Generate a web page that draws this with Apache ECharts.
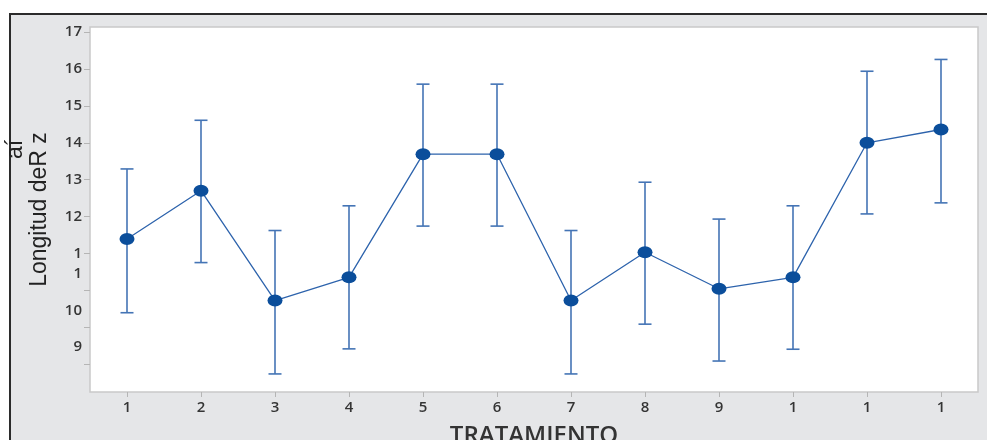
<!DOCTYPE html>
<html>
<head>
<meta charset="utf-8">
<title>Longitud de Raíz por tratamiento</title>
<script src="https://cdn.jsdelivr.net/npm/echarts@6/dist/echarts.min.js"></script>
<style>
  html, body { margin: 0; padding: 0; background: #ffffff; }
  #chart { width: 987px; height: 440px; }
</style>
</head>
<body>
<div id="chart"></div>
<script>
// Treatments on the x axis (labels as printed)
const categories = ['1', '2', '3', '4', '5', '6', '7', '8', '9', '1', '1', '1'];

// Mean root length per treatment and the ends of its interval bar
const means = [11.39, 12.70, 9.72, 10.35, 13.69, 13.69, 9.72, 11.03, 10.04, 10.35, 14.00, 14.36];
const upper = [13.29, 14.61, 11.62, 12.29, 15.59, 15.59, 11.62, 12.93, 11.93, 12.29, 15.94, 16.26];
const lower = [9.39, 10.75, 7.73, 8.41, 11.74, 11.74, 7.73, 9.08, 8.08, 8.40, 12.07, 12.37];

// Y axis ticks and the text printed beside them
const yTickValues = [17, 16, 15, 14, 13, 12, 11, 10, 9, 8];
const yTickLabels = ['17', '16', '15', '14', '13', '12', '1\n1', '10', '9', ''];
// ticks whose text sits one line below the tick mark
const yDropped = [10, 9];

const chart = echarts.init(document.getElementById('chart'));

function yLabel(value) {
  const i = yTickValues.indexOf(Math.round(value));
  if (i < 0 || !yTickLabels[i]) return '';
  const lines = yTickLabels[i].split('\n');
  if (yDropped.indexOf(yTickValues[i]) >= 0) lines.unshift(' ');
  // pad on top so the first line stays centred on the tick
  const pad = [];
  for (let k = 1; k < lines.length; k++) pad.push(' ');
  return pad.concat(lines).map(function (s) { return '{t|' + s + '}'; }).join('\n');
}

const errData = categories.map(function (c, i) { return [i, lower[i], upper[i]]; });

const option = {
  backgroundColor: '#ffffff',
  animation: false,
  graphic: [{
    type: 'rect',
    z: -10,
    silent: true,
    shape: { x: 10, y: 14, width: 1100, height: 600 },
    style: { fill: '#e5e6e8', stroke: '#2b2b2b', lineWidth: 2 }
  }],
  grid: {
    left: 90, top: 27, right: 9, bottom: 48,
    containLabel: false,
    outerBoundsMode: 'none',
    show: true,
    backgroundColor: '#ffffff',
    borderColor: '#c9c9c9',
    borderWidth: 1.5
  },
  xAxis: {
    type: 'category',
    data: categories,
    boundaryGap: true,
    name: 'TRATAMIENTO',
    nameLocation: 'middle',
    nameGap: 32,
    nameTextStyle: {
      fontFamily: 'Open Sans', fontSize: 24, fontWeight: 600, color: '#333333'
    },
    axisLine: { show: false },
    axisTick: {
      show: true, alignWithLabel: true, length: 5,
      lineStyle: { color: '#b5b5b5', width: 1 }
    },
    axisLabel: {
      margin: 8,
      fontFamily: 'Open Sans', fontSize: 15, fontWeight: 600, color: '#353535'
    },
    splitLine: { show: false }
  },
  yAxis: {
    type: 'value',
    min: 7.24,
    max: 17.14,
    name: '{a|aí}\n{b|Longitud deR z}',
    nameLocation: 'middle',
    nameGap: 38,
    nameTextStyle: {
      rich: {
        a: { fontFamily: 'Liberation Sans', fontSize: 23, color: '#222222', lineHeight: 24, padding: [0, 0, 0, 120] },
        b: { fontFamily: 'Liberation Sans', fontSize: 23, color: '#222222', lineHeight: 24 }
      }
    },
    axisLine: { show: false },
    axisTick: {
      show: true, length: 6, customValues: yTickValues,
      lineStyle: { color: '#b5b5b5', width: 1 }
    },
    axisLabel: {
      margin: 8,
      customValues: yTickValues,
      formatter: yLabel,
      rich: {
        t: { fontFamily: 'Open Sans', fontSize: 15, fontWeight: 600, color: '#353535', lineHeight: 20 }
      }
    },
    splitLine: { show: false }
  },
  series: [
    {
      type: 'custom',
      name: 'intervalo',
      data: errData,
      z: 2,
      renderItem: function (params, api) {
        const x = api.value(0);
        const lo = api.coord([x, api.value(1)]);
        const hi = api.coord([x, api.value(2)]);
        const half = 6.5;
        const style = { stroke: '#4474b5', lineWidth: 1.6 };
        return {
          type: 'group',
          children: [
            { type: 'line', shape: { x1: hi[0], y1: hi[1], x2: lo[0], y2: lo[1] }, style: style },
            { type: 'line', shape: { x1: hi[0] - half, y1: hi[1], x2: hi[0] + half, y2: hi[1] }, style: style },
            { type: 'line', shape: { x1: lo[0] - half, y1: lo[1], x2: lo[0] + half, y2: lo[1] }, style: style }
          ]
        };
      }
    },
    {
      type: 'line',
      name: 'media',
      data: means,
      z: 3,
      symbol: 'circle',
      symbolSize: [15, 12],
      showAllSymbol: true,
      lineStyle: { color: '#2d63ac', width: 1.3 },
      itemStyle: { color: '#0b4e9b' }
    }
  ]
};

chart.setOption(option);
</script>
</body>
</html>
